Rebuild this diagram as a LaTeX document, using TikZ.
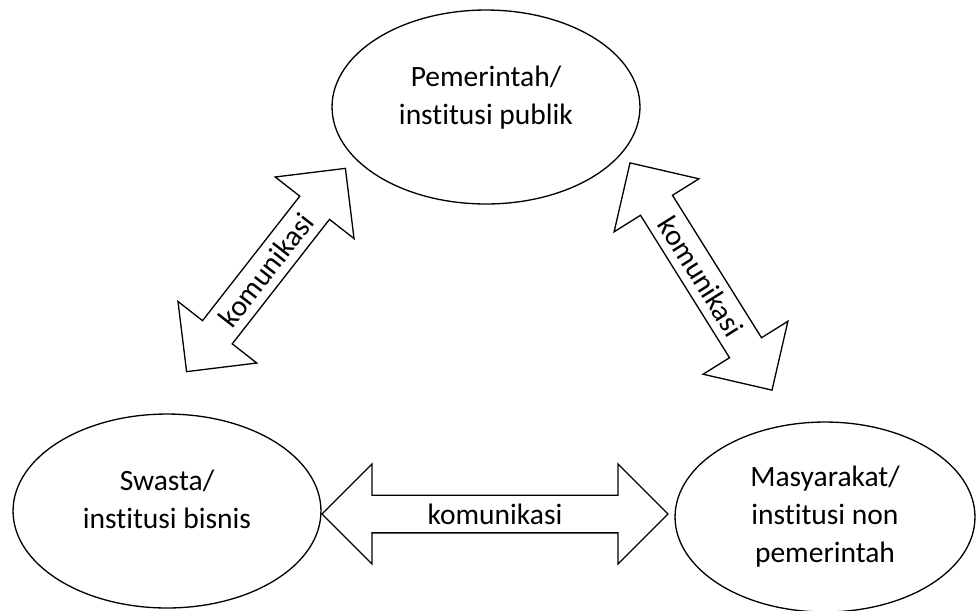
\documentclass[tikz,border=0pt]{standalone}
\usepackage{fontspec}
\setmainfont{Carlito}[Ligatures={NoCommon}]
\usetikzlibrary{shapes.geometric,shapes.arrows}
\begin{document}
\begin{tikzpicture}[x=0.02cm, y=-0.02cm, line width=0.75pt,
    font=\fontsize{16.8}{21.6}\selectfont,
    pihak/.style={draw, ellipse, align=center, minimum width=6.16cm, minimum height=3.88cm, inner sep=0pt},
    panah/.style={draw, double arrow, minimum height=#1, minimum width=2cm,
        double arrow head extend=0.48cm, double arrow tip angle=90, inner sep=2pt}]
    \useasboundingbox (0,0) rectangle (976,610);
    % 定义节点
    \node[pihak, text depth=0.48cm] (P) at (486,107) {Pemerintah/\\institusi publik};
    \node[pihak, text depth=0.48cm] (S) at (167,511) {Swasta/\\institusi bisnis};
    \node[pihak, minimum width=6cm, minimum height=3.8cm] (M) at (825,517) {Masyarakat/\\institusi non\\pemerintah};

    % 双向箭头
    \node[panah=6.92cm] (SM) at (495,514) {komunikasi};
    \node[panah=5.16cm, rotate=52] (SP) at (266,270) {komunikasi};
    \node[panah=5.36cm, rotate=-58] (PM) at (701,276.5) {komunikasi};
\end{tikzpicture}
\end{document}
